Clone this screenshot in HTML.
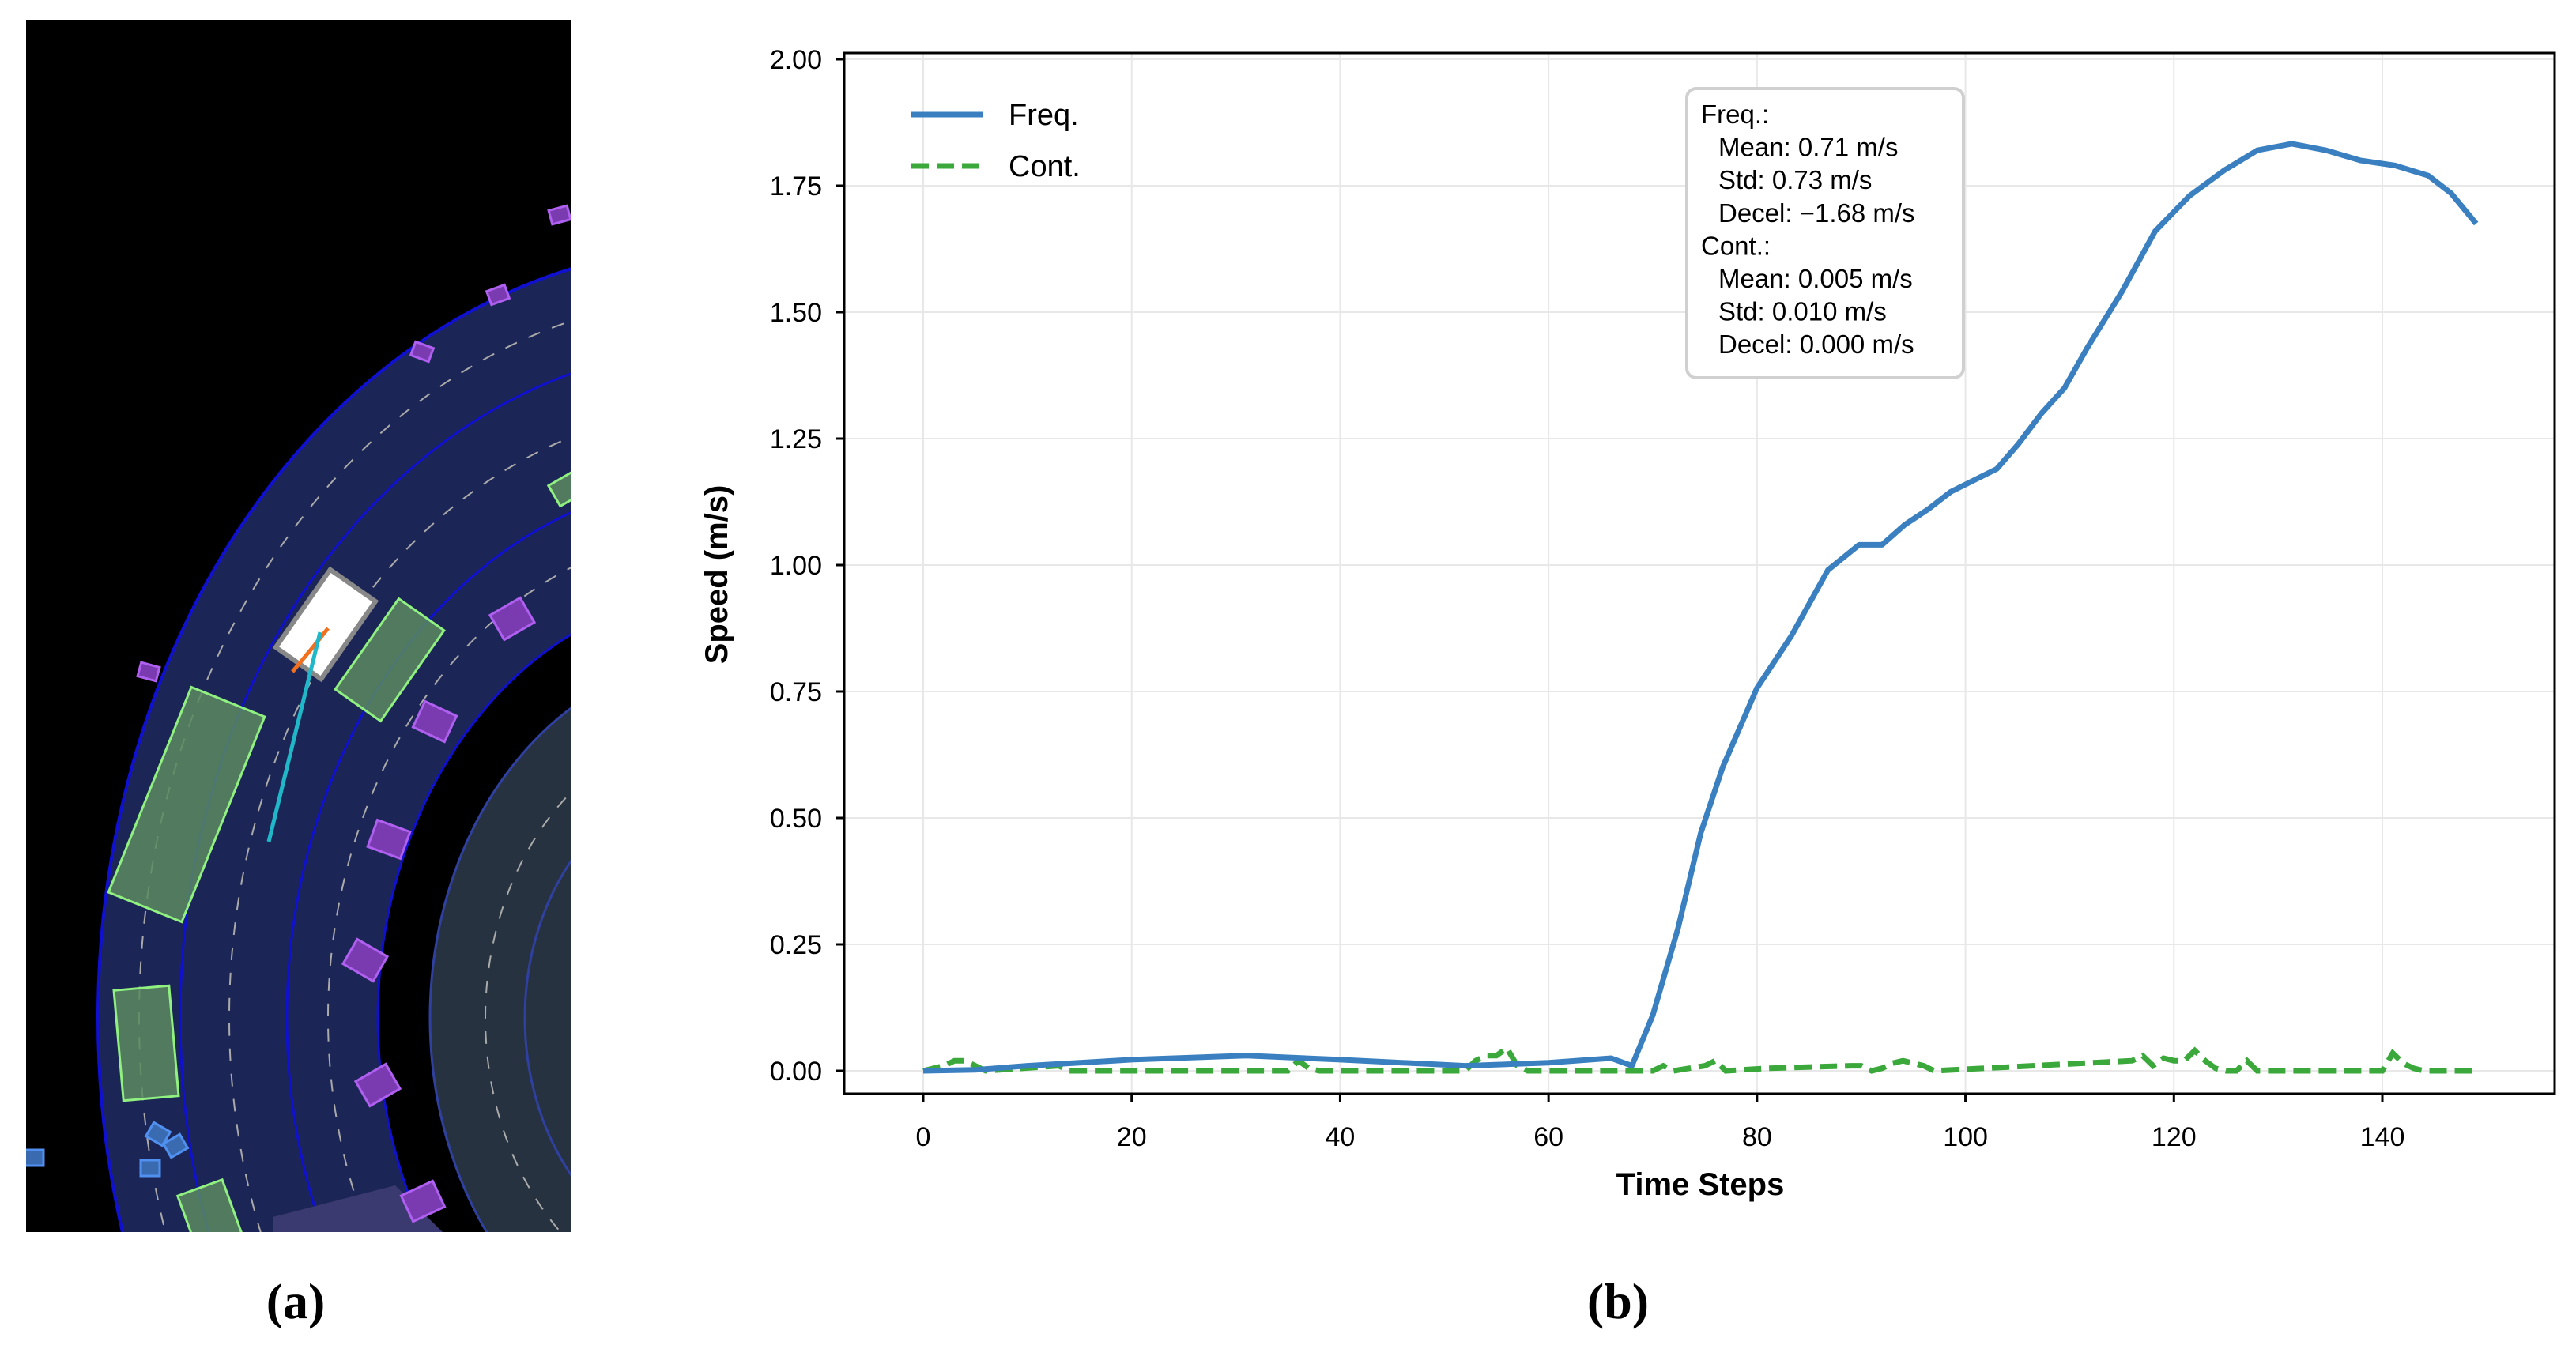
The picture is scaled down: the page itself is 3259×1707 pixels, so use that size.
<!DOCTYPE html>
<html><head><meta charset="utf-8"><style>
html,body{margin:0;padding:0;background:#fff;overflow:hidden;width:3259px;height:1707px;}
svg{display:block;}
text{font-family:"Liberation Sans",sans-serif;}
</style></head><body>
<svg id="root" width="3259" height="1707" viewBox="0 0 3259 1707" xmlns="http://www.w3.org/2000/svg">
<defs><clipPath id="clipA"><rect x="33" y="25" width="690" height="1534"/></clipPath>
<clipPath id="clipB"><rect x="1068" y="67" width="2164" height="1317"/></clipPath></defs>
<g clip-path="url(#clipA)">
<rect x="33" y="25" width="690" height="1534" fill="#000"/>
<ellipse cx="914" cy="1288" rx="790" ry="977" fill="#1c2656" stroke="#1010d0" stroke-width="4"/>
<ellipse cx="914" cy="1288" rx="738" ry="913" fill="none" stroke="#aaa" stroke-width="2" stroke-dasharray="16,16"/>
<ellipse cx="914" cy="1288" rx="686" ry="849" fill="none" stroke="#1010d0" stroke-width="3"/>
<ellipse cx="914" cy="1288" rx="624" ry="772" fill="none" stroke="#aaa" stroke-width="2" stroke-dasharray="16,16"/>
<ellipse cx="914" cy="1288" rx="551" ry="682" fill="none" stroke="#1010d0" stroke-width="3"/>
<ellipse cx="914" cy="1288" rx="499" ry="617" fill="none" stroke="#aaa" stroke-width="2" stroke-dasharray="16,16"/>
<ellipse cx="914" cy="1288" rx="436" ry="540" fill="#000" stroke="#1010d0" stroke-width="3"/>
<ellipse cx="914" cy="1288" rx="370" ry="458" fill="#263240" stroke="#3040a0" stroke-width="3"/>
<ellipse cx="914" cy="1288" rx="300" ry="371" fill="none" stroke="#aaa" stroke-width="2" stroke-dasharray="16,16"/>
<ellipse cx="914" cy="1288" rx="250" ry="309" fill="none" stroke="#3040a0" stroke-width="3"/>
<polygon points="345,1540 500,1500 560,1559 345,1559" fill="#3a3a70"/>
<g>
<rect x="-35" y="-60" width="70" height="120" fill="#fff" stroke="#888" stroke-width="6" transform="translate(412,790) rotate(35)"/>
<polyline points="370,850 395,820 415,795" fill="none" stroke="#f07020" stroke-width="5"/>
<line x1="405" y1="800" x2="340" y2="1065" stroke="#20b8c8" stroke-width="5"/></g>
<g fill="#5a8a60" fill-opacity="0.85" stroke="#90f080" stroke-width="3">
<rect x="-50" y="-140" width="100" height="280" transform="translate(236,1018) rotate(22)"/>
<rect x="-35" y="-70" width="70" height="140" transform="translate(185,1320) rotate(-5)"/>
<rect x="-35" y="-70" width="70" height="140" transform="translate(493,835) rotate(35)"/>
<rect x="-30" y="-50" width="60" height="100" transform="translate(270,1550) rotate(-20)"/>
<rect x="-15" y="-25" width="30" height="50" transform="translate(723,615) rotate(60)"/>
</g>
<g fill="#7a3ab0" stroke="#b060f0" stroke-width="3">
<rect x="-22" y="-18" width="44" height="36" transform="translate(648,783) rotate(-30)"/>
<rect x="-22" y="-18" width="44" height="36" transform="translate(550,913) rotate(25)"/>
<rect x="-22" y="-18" width="44" height="36" transform="translate(492,1062) rotate(20)"/>
<rect x="-22" y="-18" width="44" height="36" transform="translate(462,1215) rotate(30)"/>
<rect x="-22" y="-18" width="44" height="36" transform="translate(478,1373) rotate(-30)"/>
<rect x="-22" y="-18" width="44" height="36" transform="translate(535,1520) rotate(-25)"/>
<rect x="-12" y="-9" width="24" height="18" transform="translate(708,272) rotate(-15)"/>
<rect x="-12" y="-9" width="24" height="18" transform="translate(534,445) rotate(20)"/>
<rect x="-12" y="-9" width="24" height="18" transform="translate(188,850) rotate(15)"/>
<rect x="-12" y="-9" width="24" height="18" transform="translate(630,373) rotate(-20)"/>
</g>
<g fill="#3a6ab0" stroke="#5090f0" stroke-width="3">
<rect x="-12" y="-10" width="24" height="20" transform="translate(43,1465)"/>
<rect x="-12" y="-10" width="24" height="20" transform="translate(200,1435) rotate(30)"/>
<rect x="-12" y="-10" width="24" height="20" transform="translate(222,1450) rotate(-30)"/>
<rect x="-12" y="-10" width="24" height="20" transform="translate(190,1478)"/>
</g>
</g>
<text x="374" y="1668" style="font-family:'Liberation Serif',serif;font-weight:bold" font-size="64" text-anchor="middle">(a)</text>
<text x="2047" y="1668" style="font-family:'Liberation Serif',serif;font-weight:bold" font-size="64" text-anchor="middle">(b)</text>
<g id="chart"></g>
</svg>
<script>
const xTicks=[0,20,40,60,80,100,120,140];
const yTicks=[0,0.25,0.5,0.75,1.0,1.25,1.5,1.75,2.0];
const yTickLabels=["0.00","0.25","0.50","0.75","1.00","1.25","1.50","1.75","2.00"];
const freqSteps=[0,5,10,20,31,40,52,60,66,68,70,72.4,74.6,76.7,80,83.3,86.8,89.8,92,94.2,96.4,98.6,103,105.1,107.3,109.5,111.7,115,118.2,121.5,124.8,128,131.3,134.6,137.9,141.2,144.4,146.6,149];
const freqValues=[0,0.002,0.01,0.022,0.03,0.022,0.01,0.016,0.025,0.01,0.11,0.28,0.47,0.6,0.757,0.86,0.99,1.04,1.04,1.08,1.11,1.145,1.19,1.24,1.3,1.35,1.43,1.54,1.66,1.73,1.78,1.82,1.833,1.82,1.8,1.79,1.77,1.735,1.675];
const contSteps=[0,2,3,4,5,6,13,14,35,36,37,38,52,53,54,55,56,57,58,70,71,72,75,76,77,81,89,90,91,92,93,94,95,96,97,116,117,118,119,120,121,122,123,124,125,126,127,128,140,141,142,143,144,149];
const contValues=[0,0.01,0.02,0.02,0.01,0,0.01,0,0,0.02,0.005,0,0,0.02,0.03,0.03,0.045,0.01,0,0,0.01,0,0.01,0.02,0,0.005,0.01,0.01,0,0.005,0.015,0.02,0.015,0.01,0,0.02,0.03,0.01,0.025,0.02,0.02,0.04,0.02,0.005,0,0,0.02,0,0,0.035,0.015,0.005,0,0];
const NS="http://www.w3.org/2000/svg";
const L=1068,R=3232,T=67,B=1384;
const xs=v=>1168+v*(3014-1168)/140;
const ys=v=>1355-v*(1355-75)/2;
const g=document.getElementById('chart');
function mk(t,a,txt){const e=document.createElementNS(NS,t);for(const k in a)e.setAttribute(k,a[k]);if(txt!==undefined)e.textContent=txt;g.appendChild(e);return e;}
xTicks.forEach(t=>{const e=mk('line',{x1:xs(t),x2:xs(t),y1:T,y2:B,stroke:'#e8e8e8','stroke-width':2});

});
yTicks.forEach(t=>{const e=mk('line',{x1:L,x2:R,y1:ys(t),y2:ys(t),stroke:'#e8e8e8','stroke-width':2});

});
xTicks.forEach(t=>{mk('line',{x1:xs(t),x2:xs(t),y1:B,y2:B+10,stroke:'#000','stroke-width':3});
const e=mk('text',{x:xs(t),y:1450,'font-size':34,'text-anchor':'middle'},String(t));

});
yTicks.forEach((t,i)=>{mk('line',{x1:L-10,x2:L,y1:ys(t),y2:ys(t),stroke:'#000','stroke-width':3});
const e=mk('text',{x:1040,y:ys(t)+12,'font-size':34,'text-anchor':'end'},yTickLabels[i]);

});
const cg=document.createElementNS(NS,'g');cg.setAttribute('clip-path','url(#clipB)');g.appendChild(cg);
const cont=document.createElementNS(NS,'polyline');
cont.setAttribute('points',contSteps.map((s,i)=>xs(s)+','+ys(contValues[i])).join(' '));
cont.setAttribute('fill','none');cont.setAttribute('stroke','#3aa83a');cont.setAttribute('stroke-width',7);cont.setAttribute('stroke-dasharray','22,10');


cg.appendChild(cont);
const fr=document.createElementNS(NS,'polyline');
fr.setAttribute('points',freqSteps.map((s,i)=>xs(s)+','+ys(freqValues[i])).join(' '));
fr.setAttribute('fill','none');fr.setAttribute('stroke','#3a80c0');fr.setAttribute('stroke-width',7);fr.setAttribute('stroke-linejoin','round');


cg.appendChild(fr);
const frame=mk('rect',{x:L,y:T,width:R-L,height:B-T,fill:'none',stroke:'#000','stroke-width':3});


const xl=mk('text',{x:2151,y:1512,'font-size':40,'font-weight':'bold','text-anchor':'middle'},'Time Steps');


const yl=mk('text',{x:0,y:0,'font-size':40,'font-weight':'bold','text-anchor':'middle',transform:'translate(920,727) rotate(-90)'},'Speed (m/s)');


mk('line',{x1:1153,x2:1243,y1:145,y2:145,stroke:'#3a80c0','stroke-width':7});
const l1=mk('text',{x:1276,y:158,'font-size':38},'Freq.');


mk('line',{x1:1153,x2:1243,y1:210,y2:210,stroke:'#3aa83a','stroke-width':7,'stroke-dasharray':'22,10'});
const l2=mk('text',{x:1276,y:223,'font-size':38},'Cont.');


const box=mk('rect',{x:2134,y:112,width:350,height:366,rx:12,fill:'#fff',stroke:'#d0d0d0','stroke-width':4});


const lines=["Freq.:","  Mean: 0.71 m/s","  Std: 0.73 m/s","  Decel: \u22121.68 m/s","Cont.:","  Mean: 0.005 m/s","  Std: 0.010 m/s","  Decel: 0.000 m/s"];
lines.forEach((s,i)=>{const ind=s.startsWith('  ');const e=mk('text',{x:ind?2174:2152,y:156+i*41.6,'font-size':33},s.trim());

});
</script>
</body></html>
